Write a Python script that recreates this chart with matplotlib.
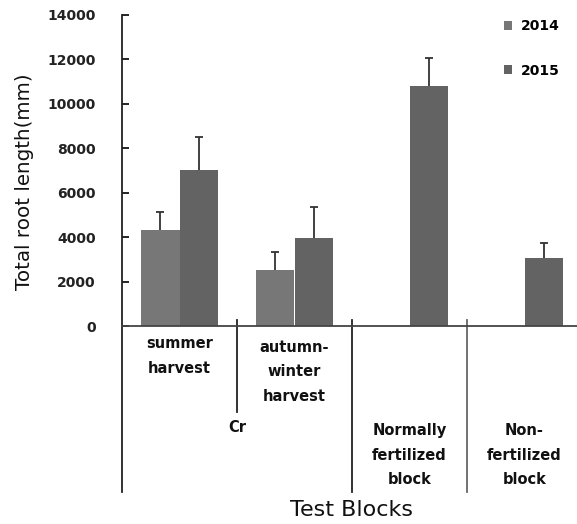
import numpy as np
import matplotlib
matplotlib.use('Agg')
import matplotlib.pyplot as plt

# data
groups = ['summer\nharvest', 'autumn-\nwinter\nharvest', 'Normally\nfertilized\nblock', 'Non-\nfertilized\nblock']
series = ['2014', '2015']
vals_2014 = [4300, 2500, np.nan, np.nan]
err_2014 = [850, 850, 0, 0]
vals_2015 = [7000, 3950, 10800, 3050]
err_2015 = [1500, 1400, 1250, 700]
yticks = [0, 2000, 4000, 6000, 8000, 10000, 12000, 14000]

W, H = 577, 524
dpi = 100
fig = plt.figure(figsize=(W / dpi, H / dpi), dpi=dpi)
ax = fig.add_axes([122 / W, (H - 326) / H, 455 / W, 311 / H])

c14 = '#777777'
c15 = '#636363'
x = np.arange(len(groups))
bw = 1 / 3
ekw = dict(ecolor='#333333', elinewidth=1.3, capsize=3, capthick=1.3)
zeros = [0] * len(groups)
b14 = ax.bar(x + 1 / 3, vals_2014, bw, color=c14, label=series[0],
             yerr=[zeros, err_2014], error_kw=ekw)
b15 = ax.bar(x + 2 / 3, vals_2015, bw, color=c15, label=series[1],
             yerr=[zeros, err_2015], error_kw=ekw)
# only plus side error bars: hide the lower caps
for b in (b14, b15):
    b.errorbar.lines[1][0].set_visible(False)

ax.set_xlim(0, 455 / 115)
ax.set_ylim(0, 14000)
ax.set_yticks(yticks)
ax.set_yticklabels([str(t) for t in yticks], fontsize=10, fontweight='bold', color='#222222')
ax.tick_params(axis='y', direction='in', length=5, width=1.2, pad=19)
ax.set_xticks([])
for s in ['top', 'right']:
    ax.spines[s].set_visible(False)
ax.spines['left'].set_linewidth(1.3)
ax.spines['left'].set_color('#222222')
ax.spines['bottom'].set_linewidth(1.3)
ax.spines['bottom'].set_color('#444444')

def yfrac(py):
    return (326 - py) / 311

tr = ax.get_xaxis_transform()
# category divider lines
ax.plot([0, 0], [0, yfrac(492)], transform=tr, color='#222222', lw=1.3, clip_on=False)
ax.plot([1, 1], [yfrac(320), yfrac(412)], transform=tr, color='#222222', lw=1.3, clip_on=False)
ax.plot([2, 2], [yfrac(320), yfrac(492)], transform=tr, color='#222222', lw=1.3, clip_on=False)
ax.plot([3, 3], [yfrac(320), yfrac(492)], transform=tr, color='#666666', lw=1.3, clip_on=False)

lab = dict(transform=tr, ha='center', va='center', fontsize=10.5, fontweight='bold',
           linespacing=1.8, color='#111111', clip_on=False)
ax.text(0.5, yfrac(356), groups[0], **lab)
ax.text(1.5, yfrac(372), groups[1], **lab)
ax.text(1.0, yfrac(428), 'Cr', **lab)
ax.text(2.5, yfrac(455), groups[2], **lab)
ax.text(3.5, yfrac(455), groups[3], **lab)

fig.text(352 / W, 1 - 510 / H, 'Test Blocks', ha='center', va='center', fontsize=16, color='#111111')
fig.text(25 / W, 1 - 182 / H, 'Total root length(mm)', ha='center', va='center',
         rotation=90, fontsize=14.3, color='#111111')

ax.legend(loc='upper left', bbox_to_anchor=(504 / W, 1 - 19 / H), bbox_transform=fig.transFigure,
          frameon=False, borderpad=0, borderaxespad=0, handlelength=0.6, handleheight=0.6,
          handletextpad=0.6, labelspacing=2.2, prop={'size': 10, 'weight': 'bold'})

fig.savefig('out.png', dpi=dpi)
